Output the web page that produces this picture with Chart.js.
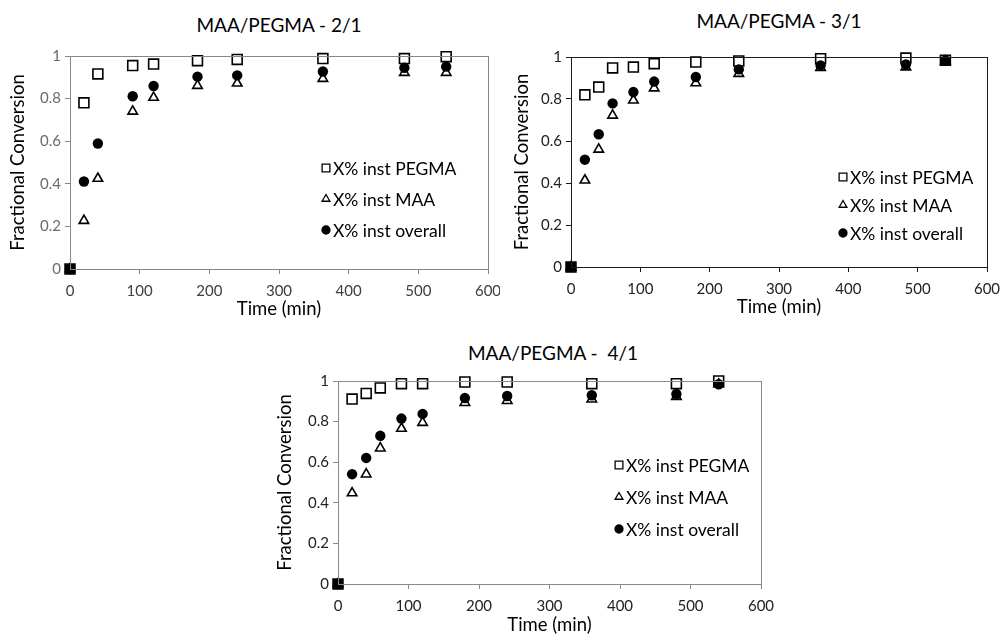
<!DOCTYPE html>
<html>
<head>
<meta charset="utf-8">
<script src="https://cdn.jsdelivr.net/npm/chart.js@4.4.1/dist/chart.umd.min.js"></script>
<style>
  body { margin: 0; background: #fff; width: 1003px; height: 635px; position: relative; overflow: hidden; font-family: Lato, 'Open Sans', sans-serif; }
  .box { position: absolute; }
  .ttl { position: absolute; font-size: 19px; color: #000; white-space: pre; transform: translate(-50%, -50%); }
</style>
</head>
<body>
<div class="ttl" style="left:279px; top:24px;">MAA/PEGMA - 2/1</div>
<div class="ttl" style="left:779px; top:20px;">MAA/PEGMA - 3/1</div>
<div class="ttl" style="left:553px; top:352px;">MAA/PEGMA -  4/1</div>

<div class="box" style="left:0px; top:40px; width:500px; height:282px;"><canvas id="c21"></canvas></div>
<div class="box" style="left:505px; top:40px; width:498px; height:280px;"><canvas id="c31"></canvas></div>
<div class="box" style="left:270px; top:360px; width:505px; height:278px;"><canvas id="c41"></canvas></div>

<script>
// MAA/PEGMA - 2/1
const time21 = [0, 20, 40, 90, 120, 183, 240, 363, 480, 540];
const pegma21 = [0, 0.78, 0.916, 0.955, 0.962, 0.978, 0.984, 0.988, 0.988, 0.997];
const maa21 = [0, 0.227, 0.425, 0.74, 0.805, 0.861, 0.872, 0.894, 0.922, 0.922];
const overall21 = [0, 0.411, 0.589, 0.811, 0.859, 0.903, 0.909, 0.927, 0.945, 0.95];

// MAA/PEGMA - 3/1
const time31 = [0, 20, 40, 60, 90, 120, 180, 242, 360, 483, 540];
const pegma31 = [0, 0.82, 0.857, 0.948, 0.952, 0.968, 0.976, 0.981, 0.992, 0.995, 0.985];
const maa31 = [0, 0.413, 0.56, 0.722, 0.794, 0.852, 0.876, 0.921, 0.949, 0.952, 0.98];
const overall31 = [0, 0.511, 0.632, 0.779, 0.833, 0.883, 0.905, 0.941, 0.96, 0.965, 0.984];

// MAA/PEGMA - 4/1
const time41 = [0, 20, 40, 60, 90, 120, 180, 240, 360, 480, 540];
const pegma41 = [0, 0.911, 0.939, 0.966, 0.987, 0.987, 0.995, 0.995, 0.987, 0.987, 1.0];
const maa41 = [0, 0.448, 0.541, 0.669, 0.766, 0.795, 0.893, 0.903, 0.91, 0.923, 0.984];
const overall41 = [0, 0.541, 0.621, 0.73, 0.815, 0.838, 0.916, 0.926, 0.93, 0.936, 0.984];

const seriesNames = ['X% inst PEGMA', 'X% inst MAA', 'X% inst overall'];
const xTicks = [0, 100, 200, 300, 400, 500, 600];
const yTicks = [0, 0.2, 0.4, 0.6, 0.8, 1];

const FONT = "Lato, 'Open Sans', sans-serif";

function pts(xs, ys) {
    return xs.map((x, i) => ({ x: x, y: ys[i] }));
}

// box round the plot area + legend inside it
const framePlugin = {
    id: 'frame',
    afterDraw(chart, args, opts) {
        const { ctx, chartArea: a } = chart;
        ctx.save();
        ctx.strokeStyle = opts.color;
        ctx.lineWidth = 1;
        ctx.strokeRect(Math.round(a.left) + 0.5, Math.round(a.top) + 0.5,
            Math.round(a.right - a.left), Math.round(a.bottom - a.top));
        ctx.restore();

        const lg = opts.legend;
        ctx.save();
        ctx.font = '17.5px ' + FONT;
        ctx.textBaseline = 'middle';
        chart.data.datasets.forEach((ds, i) => {
            const y = lg.y + i * lg.gap;
            ctx.strokeStyle = '#000';
            ctx.fillStyle = ds.legendFill;
            ctx.lineWidth = 1.3;
            Chart.helpers.drawPoint(ctx, { pointStyle: ds.pointStyle, radius: ds.legendRadius, borderWidth: 1.3 }, lg.x, y);
            ctx.fillStyle = '#000';
            ctx.fillText(ds.label, lg.x + 7, y + 1);
        });
        ctx.restore();
    }
};

function makeChart(id, xs, a, b, c, cfg) {
    const datasets = [
        {
            label: seriesNames[0], data: pts(xs, a), order: 2, clip: false,
            pointStyle: 'rect', pointRadius: 7, borderWidth: 1.6,
            borderColor: '#000',
            backgroundColor: ctx => ctx.dataIndex === 0 ? '#000' : '#fff',
            legendFill: '#fff', legendRadius: 5.5
        },
        {
            label: seriesNames[1], data: pts(xs, b), order: 1, clip: false,
            pointStyle: 'triangle', pointRadius: 5.5, borderWidth: 1.6,
            borderColor: '#000', backgroundColor: '#fff',
            legendFill: '#fff', legendRadius: 4.5
        },
        {
            label: seriesNames[2], data: pts(xs, c), order: 0, clip: false,
            pointStyle: 'circle', pointRadius: 5.2, borderWidth: 0,
            borderColor: '#000', backgroundColor: '#000',
            legendFill: '#000', legendRadius: 4
        }
    ];

    return new Chart(document.getElementById(id), {
        type: 'scatter',
        data: { datasets: datasets },
        options: {
            responsive: true,
            maintainAspectRatio: false,
            animation: false,
            events: [],
            layout: { padding: { left: 0, top: cfg.top, right: cfg.right, bottom: 0 } },
            plugins: {
                legend: { display: false },
                tooltip: { enabled: false },
                frame: { color: cfg.axis, legend: cfg.legend }
            },
            scales: {
                x: {
                    type: 'linear', min: 0, max: 600,
                    afterBuildTicks: s => { s.ticks = xTicks.map(v => ({ value: v })); },
                    afterFit: s => { s.height = cfg.xh; s.paddingLeft = 0; s.paddingRight = 0; },
                    border: { display: true, color: cfg.axis, width: 1 },
                    grid: { drawOnChartArea: false, drawTicks: true, tickLength: 5, color: cfg.axis },
                    ticks: { color: cfg.xtext, font: { family: FONT, size: 15 }, padding: 8, callback: v => String(v) },
                    title: { display: true, text: 'Time (min)', color: '#000', font: { family: FONT, size: 18.5 }, padding: { top: 0, bottom: 2 } }
                },
                y: {
                    min: 0, max: 1,
                    afterBuildTicks: s => { s.ticks = yTicks.map(v => ({ value: v })); },
                    afterFit: s => { s.width = cfg.yw; s.paddingTop = 0; s.paddingBottom = 0; },
                    border: { display: true, color: cfg.axis, width: 1 },
                    grid: { drawOnChartArea: false, drawTicks: true, tickLength: 5, color: cfg.axis },
                    ticks: { color: cfg.ytext, font: { family: FONT, size: 15 }, padding: 4, callback: v => String(Math.round(v * 10) / 10) },
                    title: { display: true, text: 'Fractional Conversion', color: '#000', font: { family: FONT, size: 18.5 }, padding: { top: cfg.ytp, bottom: 0 } }
                }
            }
        },
        plugins: [framePlugin]
    });
}

makeChart('c21', time21, pegma21, maa21, overall21, {
    top: 16, right: 12, xh: 53, yw: 70, ytp: 7,
    axis: '#868686', xtext: '#404040', ytext: '#6b6b6b',
    legend: { x: 326, y: 128, gap: 31 }
});
makeChart('c31', time31, pegma31, maa31, overall31, {
    top: 17, right: 16, xh: 53, yw: 66, ytp: 6,
    axis: '#1a1a1a', xtext: '#222', ytext: '#222',
    legend: { x: 338, y: 137, gap: 28 }
});
makeChart('c41', time41, pegma41, maa41, overall41, {
    top: 21, right: 14, xh: 54, yw: 68, ytp: 4,
    axis: '#8a8a8a', xtext: '#222', ytext: '#222',
    legend: { x: 349, y: 105, gap: 32 }
});
</script>
</body>
</html>
